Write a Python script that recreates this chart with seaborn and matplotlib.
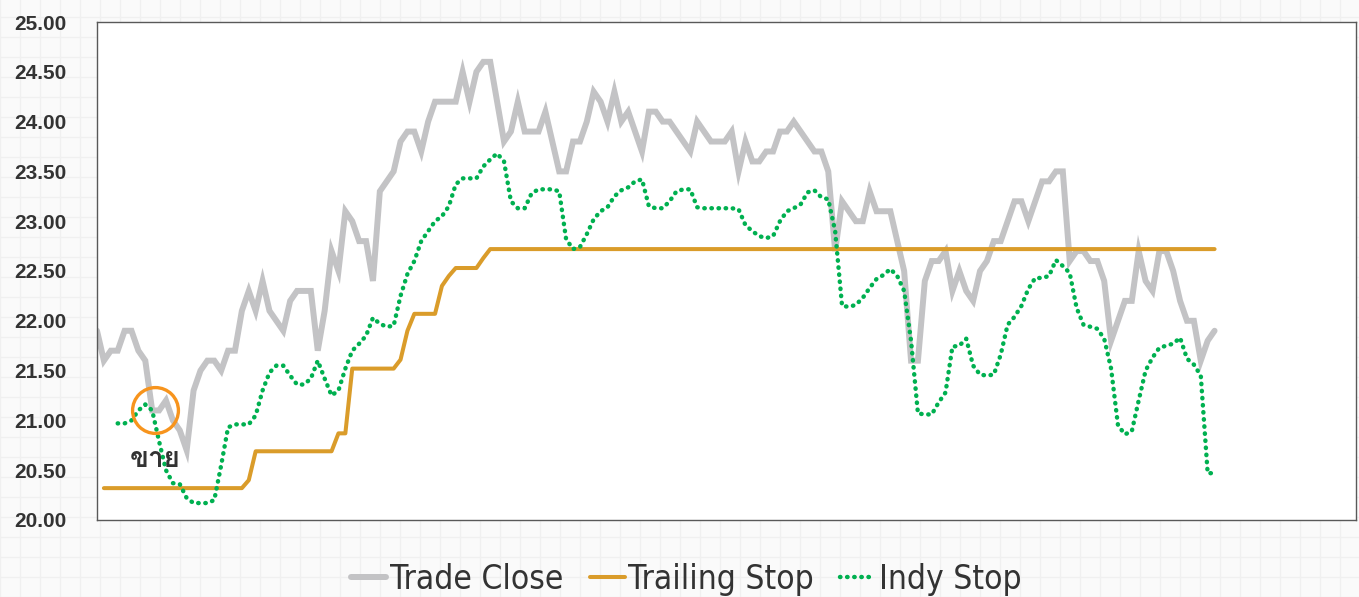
import numpy as np
import pandas as pd
import matplotlib
matplotlib.use("Agg")
import matplotlib.pyplot as plt
import seaborn as sns
from matplotlib import font_manager
from matplotlib.font_manager import FontProperties
from matplotlib.ft2font import FT2Font

# Data (index = trading day)
close = [21.9, 21.6, 21.7, 21.7, 21.9, 21.9, 21.7, 21.6, 21.1, 21.1,
         21.2, 21.0, 20.9, 20.7, 21.3, 21.5, 21.6, 21.6, 21.5, 21.7,
         21.7, 22.1, 22.3, 22.1, 22.4, 22.1, 22.0, 21.9, 22.2, 22.3,
         22.3, 22.3, 21.7, 22.1, 22.7, 22.5, 23.1, 23.0, 22.8, 22.8,
         22.4, 23.3, 23.4, 23.5, 23.8, 23.9, 23.9, 23.7, 24.0, 24.2,
         24.2, 24.2, 24.2, 24.5, 24.2, 24.5, 24.6, 24.6, 24.2, 23.8,
         23.9, 24.2, 23.9, 23.9, 23.9, 24.1, 23.8, 23.5, 23.5, 23.8,
         23.8, 24.0, 24.3, 24.2, 24.0, 24.3, 24.0, 24.1, 23.9, 23.7,
         24.1, 24.1, 24.0, 24.0, 23.9, 23.8, 23.7, 24.0, 23.9, 23.8,
         23.8, 23.8, 23.9, 23.5, 23.8, 23.6, 23.6, 23.7, 23.7, 23.9,
         23.9, 24.0, 23.9, 23.8, 23.7, 23.7, 23.5, 22.7, 23.2, 23.1,
         23.0, 23.0, 23.3, 23.1, 23.1, 23.1, 22.8, 22.5, 21.6, 21.6,
         22.4, 22.6, 22.6, 22.7, 22.3, 22.5, 22.3, 22.2, 22.5, 22.6,
         22.8, 22.8, 23.0, 23.2, 23.2, 23.0, 23.2, 23.4, 23.4, 23.5,
         23.5, 22.6, 22.7, 22.7, 22.6, 22.6, 22.4, 21.8, 22.0, 22.2,
         22.2, 22.7, 22.4, 22.3, 22.7, 22.7, 22.5, 22.2, 22.0, 22.0,
         21.6, 21.8, 21.9]

# trailing stop starts on day 1
trailing = [20.32, 20.32, 20.32, 20.32, 20.32, 20.32, 20.32, 20.32, 20.32, 20.32,
            20.32, 20.32, 20.32, 20.32, 20.32, 20.32, 20.32, 20.32, 20.32, 20.32,
            20.32, 20.40, 20.69, 20.69, 20.69, 20.69, 20.69, 20.69, 20.69, 20.69,
            20.69, 20.69, 20.69, 20.69, 20.87, 20.87, 21.52, 21.52, 21.52, 21.52,
            21.52, 21.52, 21.52, 21.61, 21.90, 22.07, 22.07, 22.07, 22.07, 22.35,
            22.45, 22.53, 22.53, 22.53, 22.53, 22.63, 22.72, 22.72, 22.72, 22.72,
            22.72, 22.72, 22.72, 22.72, 22.72, 22.72, 22.72, 22.72, 22.72, 22.72,
            22.72, 22.72, 22.72, 22.72, 22.72, 22.72, 22.72, 22.72, 22.72, 22.72,
            22.72, 22.72, 22.72, 22.72, 22.72, 22.72, 22.72, 22.72, 22.72, 22.72,
            22.72, 22.72, 22.72, 22.72, 22.72, 22.72, 22.72, 22.72, 22.72, 22.72,
            22.72, 22.72, 22.72, 22.72, 22.72, 22.72, 22.72, 22.72, 22.72, 22.72,
            22.72, 22.72, 22.72, 22.72, 22.72, 22.72, 22.72, 22.72, 22.72, 22.72,
            22.72, 22.72, 22.72, 22.72, 22.72, 22.72, 22.72, 22.72, 22.72, 22.72,
            22.72, 22.72, 22.72, 22.72, 22.72, 22.72, 22.72, 22.72, 22.72, 22.72,
            22.72, 22.72, 22.72, 22.72, 22.72, 22.72, 22.72, 22.72, 22.72, 22.72,
            22.72, 22.72, 22.72, 22.72, 22.72, 22.72, 22.72, 22.72, 22.72, 22.72,
            22.72, 22.72]

# indy stop starts on day 3
indy = [20.97, 20.97, 21.00, 21.10, 21.16, 21.10, 20.79,
        20.50, 20.37, 20.36, 20.22, 20.17, 20.17, 20.17, 20.20, 20.55, 20.93,
        20.96, 20.96, 20.96, 21.05, 21.30, 21.48, 21.55, 21.55, 21.45, 21.36,
        21.36, 21.42, 21.60, 21.42, 21.25, 21.30, 21.52, 21.70, 21.77, 21.85,
        22.03, 21.97, 21.94, 21.95, 22.25, 22.47, 22.60, 22.80, 22.90, 23.00,
        23.05, 23.15, 23.37, 23.43, 23.43, 23.43, 23.55, 23.62, 23.68, 23.60,
        23.20, 23.13, 23.13, 23.28, 23.32, 23.32, 23.32, 23.30, 22.82, 22.72,
        22.74, 22.87, 23.02, 23.10, 23.14, 23.25, 23.31, 23.34, 23.40, 23.42,
        23.15, 23.13, 23.13, 23.20, 23.30, 23.32, 23.32, 23.14, 23.13, 23.13,
        23.13, 23.13, 23.13, 23.12, 22.96, 22.90, 22.85, 22.83, 22.85, 23.00,
        23.10, 23.13, 23.17, 23.29, 23.31, 23.24, 23.22, 22.90, 22.15, 22.14,
        22.16, 22.23, 22.33, 22.42, 22.46, 22.52, 22.45, 22.30, 21.80, 21.07,
        21.06, 21.06, 21.18, 21.28, 21.74, 21.75, 21.82, 21.55, 21.46, 21.45,
        21.46, 21.66, 21.96, 22.04, 22.15, 22.32, 22.43, 22.43, 22.45, 22.61,
        22.55, 22.48, 22.13, 21.96, 21.94, 21.92, 21.82, 21.52, 20.95, 20.86,
        20.89, 21.20, 21.50, 21.63, 21.73, 21.75, 21.77, 21.83, 21.62, 21.56,
        21.45, 20.47, 20.47]

y_ticks = [20.0, 20.5, 21.0, 21.5, 22.0, 22.5, 23.0, 23.5, 24.0, 24.5, 25.0]
sell_day = 8
sell_label = "ขาย"
series_names = ["Trade Close", "Trailing Stop", "Indy Stop"]

df_close = pd.DataFrame({"day": np.arange(len(close)), "price": close})
df_trail = pd.DataFrame({"day": np.arange(1, 1 + len(trailing)), "price": trailing})
df_indy = pd.DataFrame({"day": np.arange(3, 3 + len(indy)), "price": indy})


def font_with(char, fallback):
    for f in font_manager.fontManager.ttflist:
        try:
            if ord(char) in FT2Font(f.fname).get_charmap():
                return f.name
        except Exception:
            pass
    return fallback


def narrow_font(size):
    # look for a condensed / narrow face for the legend
    best = None
    for f in font_manager.fontManager.ttflist:
        fn = f.fname.lower()
        if f.style != "normal" or "bold" in fn or "italic" in fn or "light" in fn:
            continue
        if f.weight not in (400, "normal", "regular"):
            continue
        if "narrow" in fn or "condensed" in fn or "narrow" in f.name.lower() \
                or "condensed" in f.name.lower():
            if "semi" in fn or "extra" in fn:
                continue
            best = f.fname
            if "sans" in fn:
                break
    if best:
        return FontProperties(fname=best, size=size)
    return FontProperties(family="Liberation Sans", size=size)


sns.set_style("white")
plt.rcParams["font.family"] = ["Liberation Sans", "DejaVu Sans"]
thai = font_with("ข", "DejaVu Sans")

fig = plt.figure(figsize=(13.59, 5.97), dpi=100)
fig.patch.set_facecolor("#fafafa")

# faint graph-paper background
bg = fig.add_axes([0, 0, 1, 1], zorder=-5)
bg.set_xlim(0, 1359)
bg.set_ylim(0, 597)
bg.set_facecolor("#fafafa")
bg.set_xticks(np.arange(0, 1360, 20))
bg.set_yticks(np.arange(0, 600, 20))
bg.grid(True, color="#f0f0f0", lw=1)
bg.tick_params(length=0, labelbottom=False, labelleft=False)
for s in bg.spines.values():
    s.set_visible(False)

ax = fig.add_axes([97 / 1359, 1 - 520 / 597, (1356 - 97) / 1359, (520 - 22) / 597])
ax.set_facecolor("white")

sns.lineplot(data=df_close, x="day", y="price", ax=ax, color="#c3c3c5", linewidth=4.3,
             label=series_names[0], solid_joinstyle="miter")
sns.lineplot(data=df_trail, x="day", y="price", ax=ax, color="#da9c2a", linewidth=2.9,
             label=series_names[1])
sns.lineplot(data=df_indy, x="day", y="price", ax=ax, color="#00b050", linewidth=3.2,
             linestyle=(0, (0.1, 1.5)), dash_capstyle="round", label=series_names[2])

# sell marker
ax.plot([sell_day + 0.4], [close[sell_day]], marker="o", markersize=33, mfc="none",
        mec="#f7941d", mew=2.4, zorder=5)
ax.annotate(sell_label, (sell_day + 0.4, close[sell_day]), xytext=(0, -35),
            textcoords="offset points", ha="center", va="center", fontsize=20,
            fontweight="bold", color="#333333", family=[thai, "DejaVu Sans"])

ax.set_xlim(0, 182.5)
ax.set_ylim(20, 25)
ax.set_yticks(y_ticks)
ax.set_yticklabels(["%.2f" % v for v in y_ticks], fontsize=15, fontweight="bold",
                   color="#333333")
ax.set_xticks([])
ax.tick_params(axis="y", length=0, pad=22)
ax.set_xlabel("")
ax.set_ylabel("")
for s in ax.spines.values():
    s.set_visible(True)
    s.set_color("#595959")
    s.set_linewidth(1)

ax.legend_.remove()
handles, labels = ax.get_legend_handles_labels()
fig.legend(handles[:3], labels[:3], loc="center", bbox_to_anchor=(0.505, 0.03), ncol=3,
           frameon=False, handlelength=1.05, handletextpad=0.1, columnspacing=0.8,
           prop=narrow_font(24), labelcolor="#333333")

fig.savefig("out.png", dpi=100, facecolor=fig.get_facecolor())
